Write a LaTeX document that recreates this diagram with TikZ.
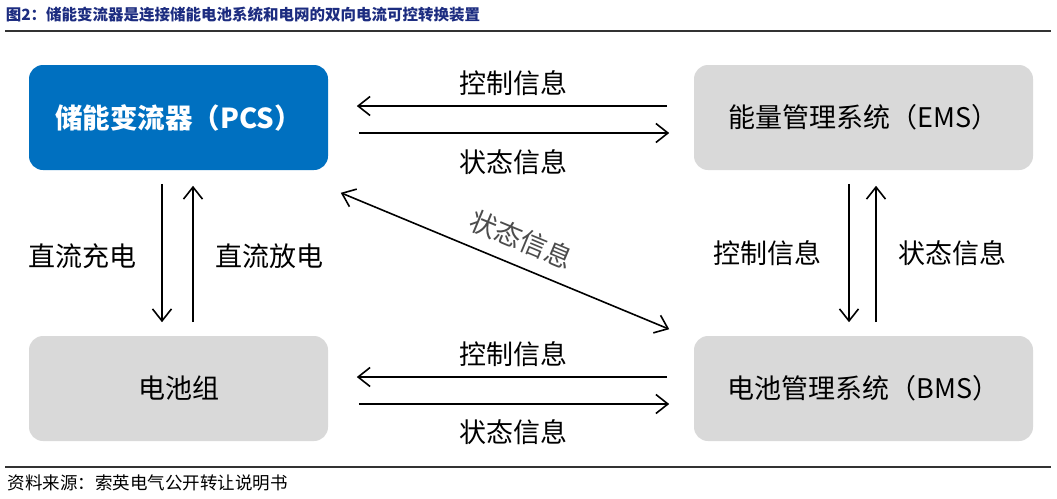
\documentclass[tikz,border=0pt]{standalone}
\usepackage{fontspec}
\setmainfont{Noto Sans CJK SC}
\usetikzlibrary{arrows.meta}
\definecolor{pcsblue}{RGB}{0,112,192}
\definecolor{boxgray}{RGB}{217,217,217}
\definecolor{titleblue}{RGB}{28,44,128}
\begin{document}
\begin{tikzpicture}[x=1pt, y=-1pt, line width=1.6pt,
    >={Straight Barb[length=12pt,width=19pt]},
    unit box/.style={rectangle,rounded corners=14pt,minimum width=299pt,minimum height=105pt,font=\fontsize{27}{30}\selectfont},
    gray box/.style={unit box,fill=boxgray,minimum width=339pt},
    info/.style={font=\fontsize{27}{30}\selectfont,inner sep=0pt} ]
    \useasboundingbox (0,0) rectangle (1057,498);
    % title and rules
    \node [anchor=west,inner sep=0pt,text=titleblue,font=\fontsize{15.5}{18}\selectfont\bfseries] (title) at (5,15) {图2：储能变流器是连接储能电池系统和电网的双向电流可控转换装置};
    \draw [line width=1.2pt,black!80] (5,31) -- (1051,31);
    \draw [line width=1.2pt,black!80] (5,467) -- (1051,467);
    \node [anchor=west,inner sep=0pt,font=\fontsize{17.5}{19}\selectfont] (src) at (7,483) {资料来源：索英电气公开转让说明书};
    % boxes
    \node at (178.5,117.5) [unit box,fill=pcsblue,text=white,font=\fontsize{27.5}{30}\selectfont\bfseries] (pcs) {储能变流器（PCS）};
    \node at (863.5,117.5) [gray box] (ems) {能量管理系统（EMS）};
    \node at (178.5,388.5) [unit box,fill=boxgray] (bat) {电池组};
    \node at (863.5,388.5) [gray box] (bms) {电池管理系统（BMS）};
    % pcs <-> ems
    \draw [->] ([xshift=-26pt,yshift=11.5pt]ems.west) to ([xshift=28pt,yshift=11.5pt]pcs.east);
    \draw [->] ([xshift=30pt,yshift=-15.5pt]pcs.east) to ([xshift=-24pt,yshift=-15.5pt]ems.west);
    \node at (513,83) [info] (c1) {控制信息};
    \node at (513,162) [info] (s1) {状态信息};
    % pcs <-> bat
    \draw [->] ([xshift=-16.5pt,yshift=-13pt]pcs.south) to ([xshift=-16.5pt,yshift=13pt]bat.north);
    \draw [->] ([xshift=14.5pt,yshift=13pt]bat.north) to ([xshift=14.5pt,yshift=-15pt]pcs.south);
    \node at (82,256) [info] (chg) {直流充电};
    \node at (269,256) [info] (dis) {直流放电};
    % ems <-> bms
    \draw [->] ([xshift=-14.5pt,yshift=-13pt]ems.south) to ([xshift=-14.5pt,yshift=13pt]bms.north);
    \draw [->] ([xshift=12.5pt,yshift=13pt]bms.north) to ([xshift=12.5pt,yshift=-15pt]ems.south);
    \node at (767,253) [info] (c2) {控制信息};
    \node at (952,253) [info] (s2) {状态信息};
    % pcs <-> bms
    \draw [<->] ([xshift=12pt,yshift=-22pt]pcs.south east) to node [pos=0.52,sloped,above=13pt,info,text=black!70] (s3) {状态信息} ([xshift=-24pt,yshift=6pt]bms.north west);
    % bat <-> bms
    \draw [->] ([xshift=-26pt,yshift=11.5pt]bms.west) to ([xshift=28pt,yshift=11.5pt]bat.east);
    \draw [->] ([xshift=30pt,yshift=-15.5pt]bat.east) to ([xshift=-24pt,yshift=-15.5pt]bms.west);
    \node at (513,354) [info] (c4) {控制信息};
    \node at (513,432) [info] (s4) {状态信息};
\end{tikzpicture}
\end{document}
